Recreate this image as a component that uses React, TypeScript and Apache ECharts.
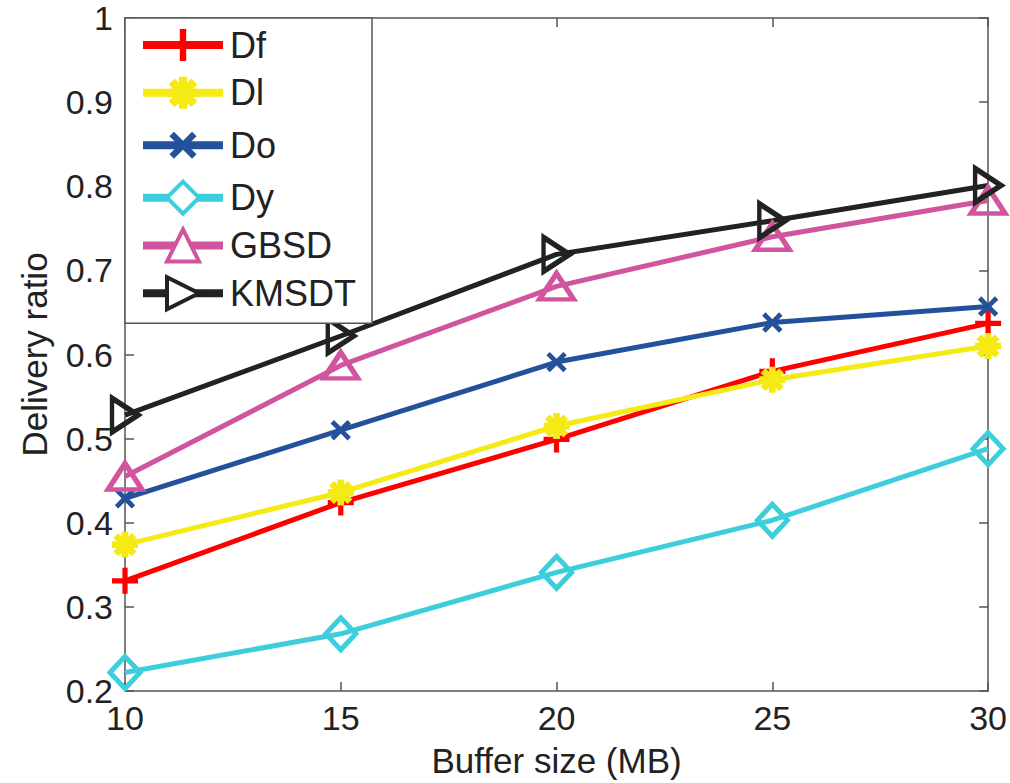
import React, { useEffect, useRef } from "react";
import * as echarts from "echarts";

const bufferSizes = [10, 15, 20, 25, 30];
const dfValues = [0.331, 0.424, 0.499, 0.58, 0.637];
const dlValues = [0.374, 0.436, 0.515, 0.57, 0.61];
const doValues = [0.429, 0.51, 0.591, 0.638, 0.657];
const dyValues = [0.222, 0.268, 0.341, 0.403, 0.488];
const gbsdValues = [0.455, 0.587, 0.681, 0.74, 0.783];
const kmsdtValues = [0.528, 0.622, 0.719, 0.759, 0.801];
const seriesNames = ["Df", "Dl", "Do", "Dy", "GBSD", "KMSDT"];
const yTicks = { min: 0.2, max: 1, interval: 0.1 };
const xTicks = { min: 10, max: 30, interval: 5 };

const FONT = "'Liberation Sans', Arial, Helvetica, sans-serif";

function plusPoints(w: number): number[][] {
  return [
    [-1, -w], [-w, -w], [-w, -1], [w, -1], [w, -w], [1, -w],
    [1, w], [w, w], [w, 1], [-w, 1], [-w, w], [-1, w],
  ];
}
function toPath(pts: number[][]): string {
  return pts.map((p, i) => (i === 0 ? "M" : "L") + p[0].toFixed(3) + "," + p[1].toFixed(3)).join("") + "Z";
}
const PLUS = "path://" + toPath(plusPoints(0.2));
const rot = (pts: number[][]) =>
  pts.map(([x, y]) => [(x - y) / Math.SQRT2, (x + y) / Math.SQRT2]);
const ASTER = "path://" + toPath(plusPoints(0.26)) + toPath(rot(plusPoints(0.26)));

export default function App() {
  const ref = useRef<HTMLDivElement>(null);
  useEffect(() => {
    if (!ref.current) return;
    const chart = echarts.init(ref.current, undefined, { renderer: "svg" });
    const mk = (x: number[]) => bufferSizes.map((b, i) => [b, x[i]]);
    const LW = 5;
    const BW = 5;
    const colors = ["#ff0000", "#f5ea14", "#24519c", "#3ccfdb", "#d0559e", "#222222"];
    const hollow = [false, false, false, true, true, true];
    const series: any[] = [
      {
        name: seriesNames[0], data: mk(dfValues), symbol: PLUS, symbolSize: 26,
        lineStyle: { color: colors[0], width: LW }, itemStyle: { color: colors[0] },
      },
      {
        name: seriesNames[1], data: mk(dlValues), symbol: ASTER, symbolSize: 26,
        lineStyle: { color: colors[1], width: LW }, itemStyle: { color: colors[1] },
      },
      {
        name: seriesNames[2], data: mk(doValues), symbol: PLUS, symbolSize: 24, symbolRotate: 45,
        lineStyle: { color: colors[2], width: LW }, itemStyle: { color: colors[2] },
      },
      {
        name: seriesNames[3], data: mk(dyValues), symbol: "diamond", symbolSize: [30, 32],
        lineStyle: { color: colors[3], width: LW },
        itemStyle: { color: "none", borderColor: colors[3], borderWidth: BW },
      },
      {
        name: seriesNames[4], data: mk(gbsdValues), symbol: "triangle", symbolSize: [34, 26],
        lineStyle: { color: colors[4], width: LW },
        itemStyle: { color: "none", borderColor: colors[4], borderWidth: BW },
      },
      {
        name: seriesNames[5], data: mk(kmsdtValues), symbol: "triangle", symbolSize: [34, 26], symbolRotate: -90,
        lineStyle: { color: colors[5], width: LW },
        itemStyle: { color: "none", borderColor: colors[5], borderWidth: BW },
      },
    ].map((s) => ({ type: "line", showSymbol: true, z: 3, ...s }));

    const axisCommon = {
      axisLine: { show: true, lineStyle: { color: "#555", width: 1.5 } },
      axisTick: { show: true, inside: true, length: 9, lineStyle: { color: "#555", width: 1.5 } },
      splitLine: { show: false },
    };

    chart.setOption({
      animation: false,
      backgroundColor: "#ffffff",
      textStyle: { fontFamily: FONT },
      grid: { left: 125, right: 20, top: 18, bottom: 90, show: false },
      legend: {
        orient: "vertical",
        left: 125,
        top: 18,
        padding: [9, 16, 12, 14],
        itemWidth: 80,
        itemHeight: 40,
        itemGap: 11.8,
        borderColor: "#555",
        borderWidth: 1.5,
        backgroundColor: "#fff",
        lineStyle: { width: 8 },
        textStyle: { fontFamily: FONT, fontSize: 36, lineHeight: 36, color: "#222", padding: [0, 0, 0, 2] },
        data: seriesNames.map((n, i) => ({
          name: n,
          lineStyle: { width: 8, color: colors[i] },
          itemStyle: hollow[i]
            ? { color: "#fff", borderColor: colors[i], borderWidth: 4 }
            : { color: colors[i] },
        })),
      },
      xAxis: [
        {
          type: "value", ...xTicks, position: "bottom", ...axisCommon,
          axisLabel: { fontSize: 34, color: "#222", margin: 10, fontFamily: FONT },
          name: "Buffer size (MB)", nameLocation: "middle", nameGap: 52,
          nameTextStyle: { fontSize: 35, color: "#222", fontFamily: FONT },
        },
        {
          type: "value", ...xTicks, position: "top", ...axisCommon, axisLabel: { show: false },
        },
      ],
      yAxis: [
        {
          type: "value", ...yTicks, position: "left", ...axisCommon,
          axisLabel: { fontSize: 34, color: "#222", margin: 12, fontFamily: FONT },
          name: "Delivery ratio", nameLocation: "middle", nameGap: 73,
          nameTextStyle: { fontSize: 35, color: "#222", fontFamily: FONT },
        },
        {
          type: "value", ...yTicks, position: "right", ...axisCommon, axisLabel: { show: false },
        },
      ],
      series,
    });
    return () => chart.dispose();
  }, []);
  return (
    <div
      ref={ref}
      style={{ position: "fixed", left: 0, top: 0, width: 1010, height: 783, background: "#fff" }}
    />
  );
}
